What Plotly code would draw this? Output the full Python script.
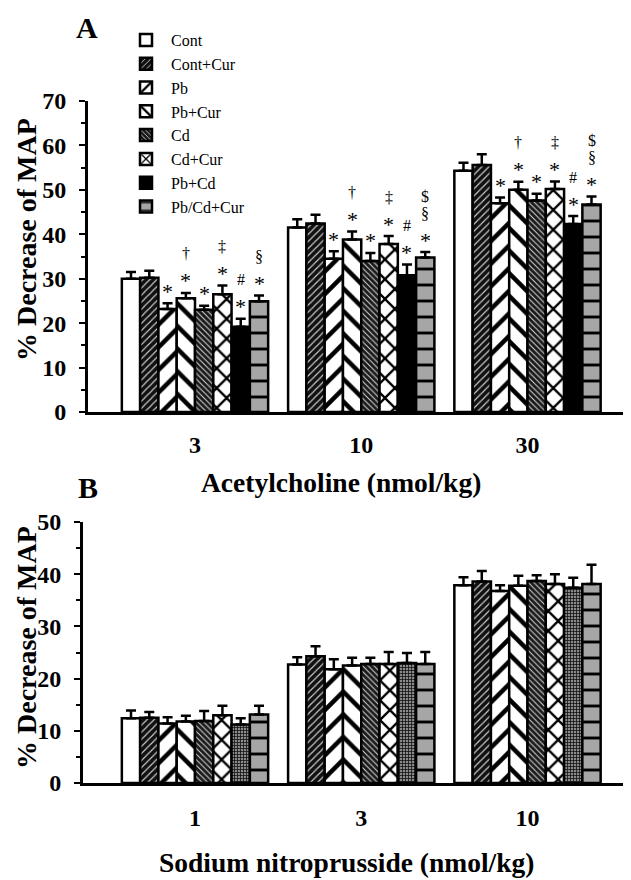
import plotly.graph_objects as go

# ---------------- data ----------------
groups = ["Cont", "Cont+Cur", "Pb", "Pb+Cur", "Cd", "Cd+Cur", "Pb+Cd", "Pb/Cd+Cur"]

ach_doses = ["3", "10", "30"]
ach_cont = [30.0, 41.5, 54.3]
ach_cont_cur = [30.2, 42.4, 55.6]
ach_pb = [23.2, 34.5, 47.0]
ach_pb_cur = [25.6, 38.8, 50.0]
ach_cd = [23.0, 34.0, 47.6]
ach_cd_cur = [26.5, 37.8, 50.2]
ach_pbcd = [19.2, 30.8, 42.3]
ach_pbcd_cur = [24.9, 34.8, 46.7]

ach_cont_err = [1.5, 1.9, 1.8]
ach_cont_cur_err = [1.6, 2.0, 2.4]
ach_pb_err = [1.3, 1.7, 1.3]
ach_pb_cur_err = [1.2, 1.8, 1.8]
ach_cd_err = [0.9, 1.8, 1.5]
ach_cd_cur_err = [2.0, 1.8, 1.7]
ach_pbcd_err = [1.8, 2.4, 1.8]
ach_pbcd_cur_err = [1.3, 1.2, 1.8]

# significance marks, listed bottom -> top
ach_sig_cont = [[], [], []]
ach_sig_cont_cur = [[], [], []]
ach_sig_pb = [["*"], ["*"], ["*"]]
ach_sig_pb_cur = [["*", "†"], ["*", "†"], ["*", "†"]]
ach_sig_cd = [["*"], ["*"], ["*"]]
ach_sig_cd_cur = [["*", "‡"], ["*", "‡"], ["*", "‡"]]
ach_sig_pbcd = [["*", "#"], ["*", "#"], ["*", "#"]]
ach_sig_pbcd_cur = [["*", "§"], ["*", "§", "$"], ["*", "§", "$"]]

snp_doses = ["1", "3", "10"]
snp_cont = [12.4, 22.7, 37.9]
snp_cont_cur = [12.5, 24.3, 38.6]
snp_pb = [11.4, 21.8, 36.8]
snp_pb_cur = [11.8, 22.5, 37.8]
snp_cd = [11.9, 22.8, 38.7]
snp_cd_cur = [13.0, 22.8, 38.1]
snp_pbcd = [11.2, 23.0, 37.4]
snp_pbcd_cur = [13.1, 22.8, 38.1]

snp_cont_err = [1.5, 1.4, 1.5]
snp_cont_cur_err = [1.1, 1.9, 2.0]
snp_pb_err = [1.2, 1.9, 1.1]
snp_pb_cur_err = [1.1, 1.5, 1.9]
snp_cd_err = [1.9, 1.2, 1.1]
snp_cd_cur_err = [1.8, 2.3, 1.9]
snp_pbcd_err = [1.2, 1.9, 1.9]
snp_pbcd_cur_err = [1.7, 2.3, 3.7]

ach_means = [ach_cont, ach_cont_cur, ach_pb, ach_pb_cur, ach_cd, ach_cd_cur, ach_pbcd, ach_pbcd_cur]
ach_errs = [ach_cont_err, ach_cont_cur_err, ach_pb_err, ach_pb_cur_err, ach_cd_err,
            ach_cd_cur_err, ach_pbcd_err, ach_pbcd_cur_err]
ach_sigs = [ach_sig_cont, ach_sig_cont_cur, ach_sig_pb, ach_sig_pb_cur, ach_sig_cd,
            ach_sig_cd_cur, ach_sig_pbcd, ach_sig_pbcd_cur]
snp_means = [snp_cont, snp_cont_cur, snp_pb, snp_pb_cur, snp_cd, snp_cd_cur, snp_pbcd, snp_pbcd_cur]
snp_errs = [snp_cont_err, snp_cont_cur_err, snp_pb_err, snp_pb_cur_err, snp_cd_err,
            snp_cd_cur_err, snp_pbcd_err, snp_pbcd_cur_err]

# ---------------- styles ----------------
FONT = "Liberation Serif"
W, H = 631, 880
OFF = 8          # page body margin of the browser
BARGAP = 0.12

def px_x(px):
    return (px - OFF) / W

def px_y(py):
    return 1 - (py - OFF) / H

def pat(shape="", bg="white", fg="black", size=8, sol=0.3):
    return dict(shape=shape, bgcolor=bg, fgcolor=fg, size=size, solidity=sol, fillmode="replace")

styles_a = [
    dict(color="white", pattern=pat()),
    dict(color="black", pattern=pat("/", "#111111", "#d0d0d0", 5, 0.22)),
    dict(color="white", pattern=pat("/", "white", "black", 16, 0.28)),
    dict(color="white", pattern=pat("\\", "white", "black", 16, 0.28)),
    dict(color="black", pattern=pat("\\", "#1a1a1a", "#d8d8d8", 4, 0.25)),
    dict(color="white", pattern=pat("x", "white", "black", 14, 0.3)),
    dict(color="black", pattern=pat()),
    dict(color="#a6a6a6", pattern=pat("-", "#a6a6a6", "black", 16, 0.18)),
]
styles_b = list(styles_a)
styles_b[6] = dict(color="#555555", pattern=pat("+", "#8a8a8a", "#111111", 3, 0.45))

ERR = dict(type="data", symmetric=False, color="black", thickness=2.5, width=5)

fig = go.Figure()

x_idx = [0, 1, 2]
for i, name in enumerate(groups):
    fig.add_trace(go.Bar(
        x=x_idx, y=ach_means[i], name=name, xaxis="x", yaxis="y",
        marker=dict(color=styles_a[i]["color"], pattern=styles_a[i]["pattern"],
                    line=dict(color="black", width=2.5)),
        error_y=dict(ERR, array=ach_errs[i], arrayminus=[0, 0, 0]),
        showlegend=True, legendgroup=name,
    ))
for i, name in enumerate(groups):
    fig.add_trace(go.Bar(
        x=x_idx, y=snp_means[i], name=name, xaxis="x2", yaxis="y2",
        marker=dict(color=styles_b[i]["color"], pattern=styles_b[i]["pattern"],
                    line=dict(color="black", width=2.5)),
        error_y=dict(ERR, array=snp_errs[i], arrayminus=[0, 0, 0]),
        showlegend=False, legendgroup=name,
    ))

# significance markers above bars (panel A): box-centre offsets above the cap, in px
SIG_SHIFT = [12, 39, 56]
bw = (1 - BARGAP) / len(groups)
annotations = []
for i in range(len(groups)):
    for g in range(3):
        for j, sym in enumerate(ach_sigs[i][g]):
            star = sym == "*"
            annotations.append(dict(
                x=g + (i - (len(groups) - 1) / 2) * bw, y=ach_means[i][g] + ach_errs[i][g],
                xref="x", yref="y", text=sym, showarrow=False,
                xanchor="center", yanchor="middle", yshift=SIG_SHIFT[j],
                font=dict(family=FONT, size=22 if star else 16, color="black")))

# panel letters & titles
def label(x, y, text, size, angle=0):
    return dict(x=px_x(x), y=px_y(y), xref="paper", yref="paper", text=text, showarrow=False,
                xanchor="center", yanchor="middle", textangle=angle,
                font=dict(family=FONT, size=size, color="black"))

annotations += [
    label(87, 27, "<b>A</b>", 30),
    label(88, 487, "<b>B</b>", 30),
    label(26, 240, "<b>% Decrease of MAP</b>", 28, -90),
    label(26, 648, "<b>% Decrease of MAP</b>", 28, -90),
    label(341, 482, "<b>Acetylcholine (nmol/kg)</b>", 27.5),
    label(346, 862, "<b>Sodium nitroprusside (nmol/kg)</b>", 27.5),
]

# axis geometry (pixel-based domains)
cat_px = 166.25
c0 = 195.0
def xr(left, right):
    return [(left - c0) / cat_px, (right - c0) / cat_px]

axis_common = dict(showline=True, linecolor="black", linewidth=3, showgrid=False, zeroline=False,
                   automargin=False, tickfont=dict(family=FONT, size=24, color="black"))
yax = dict(tickmode="linear", dtick=10, ticks="outside", ticklen=6, tickwidth=2,
           tickcolor="black", tickprefix="<b>", ticksuffix="</b>", ticklabelstandoff=8,
           minor=dict(dtick=5, ticks="outside", ticklen=4, tickwidth=1.5, tickcolor="black"))

fig.update_layout(
    template="none",
    width=W, height=H, margin=dict(l=0, r=0, t=0, b=0, pad=0, autoexpand=False),
    paper_bgcolor="white", plot_bgcolor="white",
    barmode="group", bargap=BARGAP, bargroupgap=0,
    font=dict(family=FONT, color="black"),
    xaxis=dict(axis_common, domain=[px_x(88), px_x(625)], range=xr(88, 625), anchor="y",
               tickmode="array", tickvals=x_idx, ticktext=[f"<b>{d}</b>" for d in ach_doses],
               ticks="", ticklen=0, ticklabelstandoff=9),
    yaxis=dict(axis_common, **yax, domain=[px_y(412), px_y(101)], range=[0, 70], anchor="x"),
    xaxis2=dict(axis_common, domain=[px_x(83), px_x(631)], range=xr(83, 631), anchor="y2",
                tickmode="array", tickvals=x_idx, ticktext=[f"<b>{d}</b>" for d in snp_doses],
                ticks="", ticklen=0, ticklabelstandoff=11),
    yaxis2=dict(axis_common, **yax, domain=[px_y(783), px_y(522)], range=[0, 50], anchor="x2"),
    legend=dict(x=px_x(121), y=px_y(23), xanchor="left", yanchor="top",
                font=dict(family=FONT, size=16, color="black"), tracegroupgap=0,
                bgcolor="rgba(0,0,0,0)", borderwidth=0, itemwidth=40, traceorder="normal"),
    annotations=annotations,
)

fig.write_html("out.html")
